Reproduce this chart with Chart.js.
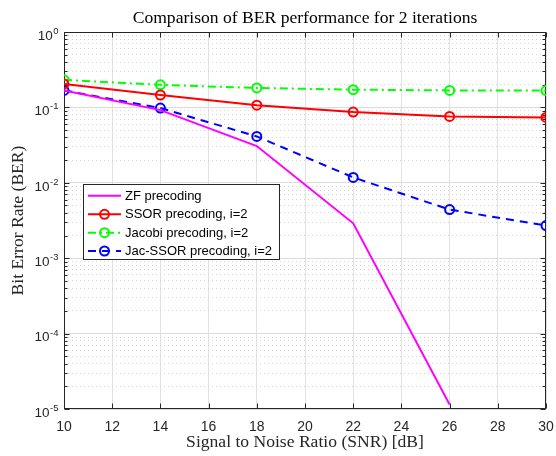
<!DOCTYPE html>
<html><head><meta charset="utf-8">
<script src="https://cdn.jsdelivr.net/npm/chart.js@4/dist/chart.umd.min.js"></script>
<style>html,body{margin:0;padding:0;background:#fff}</style>
</head><body>
<canvas id="c" width="556" height="456"></canvas>
<script>
// ---- data ----
const snr = [10, 14, 18, 22, 26, 30];
const zfBer = [0.168, 0.092, 0.0307, 0.0029, 0.0000115, null];
const ssorBer = [0.205, 0.146, 0.107, 0.0867, 0.0759, 0.0735];
const jacobiBer = [0.232, 0.199, 0.181, 0.172, 0.168, 0.167];
const jacSsorBer = [0.168, 0.098, 0.0412, 0.0118, 0.00441, 0.00271];
const seriesLabels = ['ZF precoding', 'SSOR precoding, i=2', 'Jacobi precoding, i=2', 'Jac-SSOR precoding, i=2'];
const xTickValues = [10, 12, 14, 16, 18, 20, 22, 24, 26, 28, 30];
const yDecades = [0, -1, -2, -3, -4, -5];
const titleText = 'Comparison of BER performance for 2 iterations';
const xTitleText = 'Signal to Noise Ratio (SNR) [dB]';
const yTitleText = 'Bit Error Rate (BER)';

const AX = '#262626';
const SERIF = '"Liberation Serif", "DejaVu Serif", serif';
const SANS = '"Liberation Sans", Arial, sans-serif';
const isMajor = v => Math.abs(Math.log10(v) - Math.round(Math.log10(v))) < 1e-9;
const pts = arr => snr.map((x, i) => ({x, y: arr[i]}));

const styles = [
  {color: '#ff00ff', dash: [], marker: false},
  {color: '#ff0000', dash: [], marker: true},
  {color: '#00ff00', dash: [8, 4, 2, 4], marker: true},
  {color: '#0000ff', dash: [8, 6], marker: true}
];
const series = [zfBer, ssorBer, jacobiBer, jacSsorBer];

const datasets = series.map((arr, i) => ({
  label: seriesLabels[i],
  data: pts(arr),
  borderColor: styles[i].color,
  borderWidth: 2,
  borderDash: styles[i].dash,
  backgroundColor: 'rgba(0,0,0,0)',
  pointRadius: styles[i].marker ? 4.5 : 0,
  pointBorderWidth: 2,
  pointBorderColor: styles[i].color,
  pointBackgroundColor: 'rgba(0,0,0,0)',
  pointHoverRadius: 0,
  tension: 0,
  spanGaps: false,
  fill: false
}));

function fitSize(ctx, text, width, family) {
  ctx.font = '100px ' + family;
  return 100 * width / ctx.measureText(text).width;
}

const deco = {
  id: 'deco',
  beforeDatasetsDraw(chart) {
    const {ctx, chartArea: a, scales: {x, y}} = chart;
    const L = Math.round(a.left) + 0.5, R = Math.round(a.right) - 0.5;
    const T = Math.round(a.top) + 0.5, B = Math.round(a.bottom) - 0.5;
    ctx.save();
    ctx.strokeStyle = AX; ctx.lineWidth = 1; ctx.setLineDash([]);
    const line = (x1, y1, x2, y2) => { ctx.beginPath(); ctx.moveTo(x1, y1); ctx.lineTo(x2, y2); ctx.stroke(); };
    x.ticks.forEach(t => {
      const px = Math.round(x.getPixelForValue(t.value)) + 0.5;
      line(px, B, px, B - 5); line(px, T, px, T + 5);
    });
    y.ticks.forEach(t => {
      const py = Math.round(y.getPixelForValue(t.value)) + 0.5;
      const len = isMajor(t.value) ? 5 : 3;
      line(L, py, L + len, py); line(R, py, R - len, py);
    });
    ctx.strokeRect(L, T, R - L, B - T);
    ctx.restore();
  },
  afterDraw(chart) {
    const {ctx, chartArea: a, scales: {y}} = chart;
    const cx = (a.left + a.right) / 2;
    ctx.save();
    ctx.fillStyle = '#000';
    // title
    const ts = fitSize(ctx, titleText, 345, SERIF);
    ctx.font = ts + 'px ' + SERIF;
    ctx.textAlign = 'center'; ctx.textBaseline = 'alphabetic';
    ctx.fillText(titleText, cx, 23);
    // x title
    const xs = fitSize(ctx, xTitleText, 238, SERIF);
    ctx.font = xs + 'px ' + SERIF;
    ctx.fillStyle = AX;
    ctx.fillText(xTitleText, cx, 447);
    // y title
    ctx.save();
    ctx.translate(23, (a.top + a.bottom) / 2);
    ctx.rotate(-Math.PI / 2);
    ctx.fillText(yTitleText, 0, 0);
    ctx.restore();
    // y tick labels 10^n
    yDecades.forEach(e => {
      const py = y.getPixelForValue(Math.pow(10, e));
      const expTxt = String(e);
      ctx.font = '9.5px ' + SANS;
      const we = ctx.measureText(expTxt).width;
      ctx.textAlign = 'left'; ctx.textBaseline = 'alphabetic';
      ctx.fillText(expTxt, 58.5 - we, py + 2);
      ctx.font = '13.5px ' + SANS;
      ctx.textAlign = 'right';
      ctx.fillText('10', 58 - we, py + 7.8);
    });
    // legend
    const bx = 83.5, by = 184.5, bw = 196, bh = 75;
    ctx.fillStyle = '#fff';
    ctx.fillRect(bx, by, bw, bh);
    ctx.strokeStyle = AX; ctx.lineWidth = 1; ctx.setLineDash([]);
    ctx.strokeRect(bx, by, bw, bh);
    const rows = [195.7, 214.3, 232.7, 251];
    chart.data.datasets.forEach((ds, i) => {
      const ry = rows[i];
      ctx.strokeStyle = ds.borderColor; ctx.lineWidth = 2;
      ctx.setLineDash(ds.borderDash);
      ctx.beginPath(); ctx.moveTo(88, ry); ctx.lineTo(121, ry); ctx.stroke();
      ctx.setLineDash([]);
      if (ds.pointRadius > 0) {
        ctx.beginPath(); ctx.arc(104.5, ry, 4.5, 0, Math.PI * 2); ctx.stroke();
      }
      ctx.fillStyle = '#000';
      ctx.font = '13px ' + SANS;
      ctx.textAlign = 'left'; ctx.textBaseline = 'middle';
      ctx.fillText(ds.label, 125, ry + 0.5);
    });
    ctx.restore();
  }
};

new Chart(document.getElementById('c'), {
  type: 'line',
  data: {datasets},
  options: {
    responsive: false,
    devicePixelRatio: 1,
    animation: false,
    events: [],
    layout: {padding: {left: 0, right: 10, top: 32, bottom: 0}},
    plugins: {legend: {display: false}, title: {display: false}, tooltip: {enabled: false}},
    scales: {
      x: {
        type: 'linear', min: 10, max: 30,
        afterBuildTicks: s => { s.ticks = xTickValues.map(v => ({value: v})); },
        afterFit: s => { s.height = 47; s.paddingLeft = 0; s.paddingRight = 0; },
        grid: {color: '#e2e2e2', lineWidth: 1, drawTicks: false},
        border: {display: false},
        ticks: {color: AX, font: {family: SANS, size: 14}, padding: 10, maxRotation: 0, autoSkip: false,
                callback: v => String(v)}
      },
      y: {
        type: 'logarithmic', min: 1e-5, max: 1,
        afterBuildTicks: s => {
          const t = [];
          for (let e = -5; e < 0; e++) for (let m = 1; m <= 9; m++) t.push({value: m * Math.pow(10, e), major: m === 1});
          t.push({value: 1, major: true});
          s.ticks = t;
        },
        afterFit: s => { s.width = 64; s.paddingTop = 0; s.paddingBottom = 0; },
        grid: {
          drawTicks: false, lineWidth: 1,
          color: c => (c.tick && !isMajor(c.tick.value)) ? '#d6d6d6' : '#dcdcdc'
        },
        border: {display: false, dash: c => (c.tick && !isMajor(c.tick.value)) ? [1, 3] : []},
        ticks: {display: false, autoSkip: false}
      }
    }
  },
  plugins: [deco]
});
</script>
</body></html>
